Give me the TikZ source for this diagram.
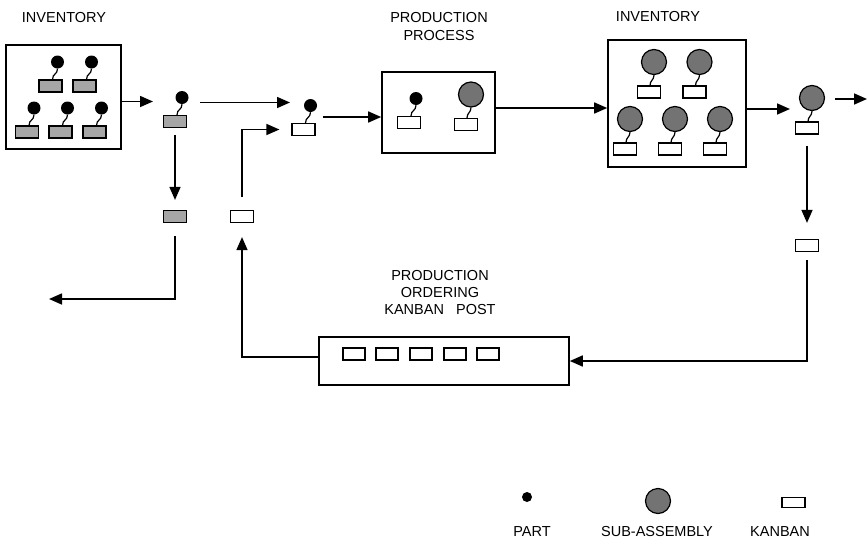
\documentclass[tikz,border=0pt]{standalone}
\usepackage{fontspec}
\setmainfont{Liberation Sans}
\usetikzlibrary{arrows.meta}
\newcommand\PartUnit[4]{%
  \node[#4] (#1k) at (#2,#3) {};
  \node[partdot] (#1p) at ({#2+7},{#3-24}) {};
  \draw[tail] (#1p.south) .. controls +(0,6) and +(0,-6) .. ([xshift=2pt]#1k.north);}
\newcommand\SubUnit[4]{%
  \node[#4] (#1k) at (#2,#3) {};
  \node[subasm] (#1s) at ({#2+5},{#3-30}) {};
  \draw[tail] (#1s.south) .. controls +(0,5) and +(0,-5) .. ([xshift=1pt]#1k.north);}
\begin{document}
\begin{tikzpicture}[x=1pt,y=-1pt,
  kb/.style={draw, line width=1.2pt, minimum width=23pt, minimum height=12pt, inner sep=0pt},
  kbh/.style={kb, fill=black!35},
  partdot/.style={circle, fill=black, minimum size=13pt, inner sep=0pt},
  subasm/.style={circle, draw, line width=1.2pt, fill=black!55, minimum size=25pt, inner sep=0pt},
  bigbox/.style={draw, line width=1.6pt, inner sep=0pt},
  lbl/.style={font=\fontsize{14.5}{17}\selectfont, align=center, inner sep=0pt},
  arr/.style={line width=1.6pt, -{Triangle[length=13pt,width=11pt]}},
  tail/.style={line width=1.2pt}]
\useasboundingbox (0,0) rectangle (868,552);

% labels
\node[lbl] (l1) at (64,18) {INVENTORY};
\node[lbl] (l2) at (439,27) {PRODUCTION\\[1pt]PROCESS};
\node[lbl] (l3) at (658,17) {INVENTORY};
\node[lbl] (l4) at (440,293) {PRODUCTION\\ORDERING\\KANBAN\ \ \ POST};

% boxes
\node[bigbox, minimum width=115pt, minimum height=104pt] (inv1) at (63.5,97) {};
\node[bigbox, minimum width=113pt, minimum height=81pt] (prod) at (438.5,112.5) {};
\node[bigbox, minimum width=138pt, minimum height=127pt] (inv2) at (677,103.5) {};
\node[bigbox, minimum width=250pt, minimum height=48pt] (post) at (444,361) {};

% inventory 1
\PartUnit{i1}{50.5}{86}{kbh}
\PartUnit{i2}{84.5}{86}{kbh}
\PartUnit{i3}{27}{132}{kbh}
\PartUnit{i4}{60.5}{132}{kbh}
\PartUnit{i5}{94.5}{132}{kbh}
% moving parts
\PartUnit{a}{175}{121.5}{kbh}
\PartUnit{b}{303.5}{129.5}{kb}
% production process
\PartUnit{p1}{409}{122.5}{kb}
\SubUnit{p2}{466}{124.5}{kb}
% inventory 2
\SubUnit{j1}{649}{92}{kb}
\SubUnit{j2}{694.5}{92}{kb}
\SubUnit{j3}{625}{149}{kb}
\SubUnit{j4}{670}{149}{kb}
\SubUnit{j5}{715}{149}{kb}
% outgoing
\SubUnit{c}{807}{128}{kb}

% loose kanbans
\node[kbh] (kd1) at (175,216.5) {};
\node[kb] (kw) at (242,216.5) {};
\node[kb] (kd5) at (807,245.5) {};

% kanbans on post
\foreach \i/\x in {1/354,2/387,3/421,4/455,5/488}
  \node[kb, minimum width=22pt] (q\i) at (\x,354) {};

% coordinates
\coordinate (t1) at (153,101.5);
\coordinate (s2) at (200,102.5);
\coordinate (t2) at (290,102.5);
\coordinate (s3) at (323,117);
\coordinate (t5) at (790,109);
\coordinate (s6) at (835,99);
\coordinate (t6) at (867,99);
\coordinate (tL) at (49,299);

% arrows
\draw[arr] (inv1.east |- t1) -- (t1);
\draw[arr] (s2) -- (t2);
\draw[arr] (s3) -- (prod.west |- s3);
\draw[arr] (prod.east |- 0,108) -- (inv2.west |- 0,108);
\draw[arr] (inv2.east |- t5) -- (t5);
\draw[arr] (s6) -- (t6);
\draw[arr] ([yshift=-7pt]ak.south) -- ([yshift=10pt]kd1.north);
\draw[arr] ([yshift=-13pt]kd1.south) |- (tL);
\draw[arr] (post.west |- 0,357) -| ([yshift=-14pt]kw.south);
\draw[arr] ([yshift=13pt]kw.north) |- ([xshift=-12pt]bk.west);
\draw[arr] ([yshift=-11pt]ck.south) -- ([yshift=16pt]kd5.north);
\draw[arr] ([yshift=-8pt]kd5.south) |- (post.east);

% legend
\node[partdot, minimum size=10pt] (gp) at (527,497) {};
\node[subasm] (gs) at (658,501) {};
\node[kb, minimum height=10pt] (gk) at (793.5,502.5) {};
\node[lbl] (gl1) at (532,532) {PART};
\node[lbl] (gl2) at (657,532) {SUB-ASSEMBLY};
\node[lbl] (gl3) at (780,532) {KANBAN};
\end{tikzpicture}
\end{document}
